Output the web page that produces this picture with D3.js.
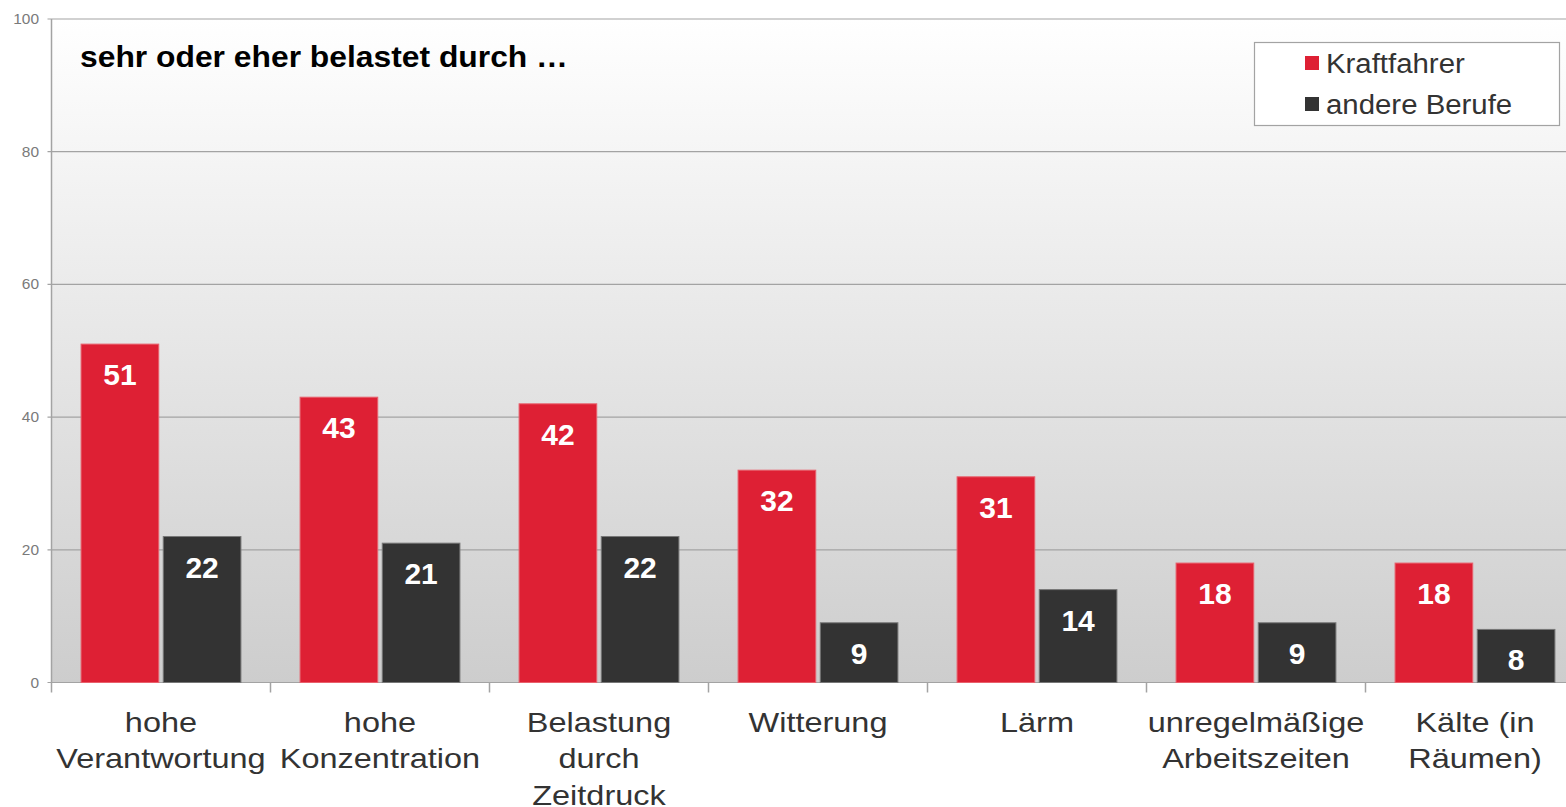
<!DOCTYPE html>
<html><head><meta charset="utf-8">
<script src="https://cdn.jsdelivr.net/npm/d3@7"></script>
<style>html,body{margin:0;padding:0;background:#fff;overflow:hidden}</style>
</head><body>
<svg id="c" width="1566" height="807"></svg>
<script>
const categories = ["hohe Verantwortung","hohe Konzentration","Belastung durch Zeitdruck","Witterung","Lärm","unregelmäßige Arbeitszeiten","Kälte (in Räumen)"];
const categoryLines = [["hohe","Verantwortung"],["hohe","Konzentration"],["Belastung","durch","Zeitdruck"],["Witterung"],["Lärm"],["unregelmäßige","Arbeitszeiten"],["Kälte (in","Räumen)"]];
const seriesNames = ["Kraftfahrer","andere Berufe"];
const kraftfahrer = [51,43,42,32,31,18,18];
const andereBerufe = [22,21,22,9,14,9,8];
const yTicks = [0,20,40,60,80,100];
const title = "sehr oder eher belastet durch …";
const colors = ["#de2034","#333333"];

(function(){
const svg = d3.select("#c");
const FONT = "Liberation Sans, Arial, sans-serif";
const pLeft = 51.5, pRight = 1584.5, pTop = 19, pBottom = 682.5;
const x0 = d3.scaleBand().domain(categories).range([pLeft, pRight]).padding(0);
const x1 = d3.scaleBand().domain(seriesNames).range([0, x0.bandwidth()]).paddingInner(0.055).paddingOuter(0.36);
const y = d3.scaleLinear().domain([0,100]).range([pBottom, pTop]);

function stretch(sel, sx){
  sel.attr("transform", function(){ const x = +d3.select(this).attr("x"); return `translate(${x},0) scale(${sx},1) translate(${-x},0)`; });
}

const defs = svg.append("defs");
const g = defs.append("linearGradient").attr("id","bg").attr("x1",0).attr("y1",0).attr("x2",0).attr("y2",1);
g.append("stop").attr("offset","0%").attr("stop-color","#ffffff");
g.append("stop").attr("offset","100%").attr("stop-color","#cdcdcd");
svg.append("rect").attr("x",pLeft).attr("y",pTop).attr("width",pRight-pLeft).attr("height",pBottom-pTop).attr("fill","url(#bg)");

svg.append("g").selectAll("line").data(yTicks).join("line")
  .attr("x1",pLeft-4).attr("x2",pRight).attr("y1",d=>y(d)).attr("y2",d=>y(d))
  .attr("stroke","#a3a3a3").attr("stroke-width",1.2);
svg.append("g").selectAll("text").data(yTicks).join("text")
  .attr("x",39).attr("y",d=>y(d)+5).attr("text-anchor","end")
  .attr("font-family",FONT).attr("font-size",14)
  .attr("fill","#7a7a7a").attr("textLength",d=>String(d).length*8.6).attr("lengthAdjust","spacingAndGlyphs").text(d=>d);
svg.append("line").attr("x1",pLeft).attr("x2",pLeft).attr("y1",pTop).attr("y2",pBottom+10).attr("stroke","#a3a3a3").attr("stroke-width",1.5);
svg.append("g").selectAll("line").data(categories.slice(1)).join("line")
  .attr("x1",d=>x0(d)).attr("x2",d=>x0(d)).attr("y1",pBottom).attr("y2",pBottom+10)
  .attr("stroke","#a3a3a3").attr("stroke-width",1.5);

const data = categories.map((c,i)=>({c, vals:[kraftfahrer[i], andereBerufe[i]]}));
const grp = svg.append("g").selectAll("g").data(data).join("g").attr("transform",d=>`translate(${x0(d.c)},0)`);
grp.selectAll("rect").data(d=>d.vals.map((v,j)=>({v, s:seriesNames[j], j}))).join("rect")
  .attr("x",d=>x1(d.s)).attr("width",x1.bandwidth())
  .attr("y",d=>y(d.v)).attr("height",d=>y(0)-y(d.v))
  .attr("fill",d=>colors[d.j]).attr("stroke",d=>d.j===0?"#e8606c":"#777").attr("stroke-width",1);
grp.selectAll("text").data(d=>d.vals.map((v,j)=>({v, s:seriesNames[j], j}))).join("text")
  .attr("x",d=>x1(d.s)+x1.bandwidth()/2).attr("y",d=>y(d.v)+41)
  .attr("text-anchor","middle").attr("font-family",FONT)
  .attr("font-weight","bold").attr("font-size",30).attr("fill","#fff").text(d=>d.v);

const cl = svg.append("g").selectAll("text").data(categories).join("text")
  .attr("x",d=>x0(d)+x0.bandwidth()/2).attr("y",732).attr("text-anchor","middle")
  .attr("font-family",FONT).attr("font-size",28).attr("fill","#333")
  .each(function(d,i){
    d3.select(this).selectAll("tspan").data(categoryLines[i]).join("tspan")
      .attr("x",x0(d)+x0.bandwidth()/2).attr("dy",(t,k)=>k===0?0:36.5).text(t=>t);
  });
stretch(cl, 1.16);

const tt = svg.append("text").attr("x",80).attr("y",67).attr("font-family",FONT)
  .attr("font-weight","bold").attr("font-size",29).attr("fill","#000").text(title);
stretch(tt, 488/tt.node().getComputedTextLength());

const lg = svg.append("g");
lg.append("rect").attr("x",1254.5).attr("y",42.5).attr("width",305).attr("height",83).attr("fill","#fff").attr("stroke","#a3a3a3").attr("stroke-width",1.2);
seriesNames.forEach((s,i)=>{
  lg.append("rect").attr("x",1305).attr("y",56+i*41).attr("width",14).attr("height",14).attr("fill",colors[i]);
  const t = lg.append("text").attr("x",1326).attr("y",73+i*41).attr("font-family",FONT)
    .attr("font-size",28).attr("fill","#333").text(s);
  stretch(t, 1.05);
});
})();
</script>
</body></html>
